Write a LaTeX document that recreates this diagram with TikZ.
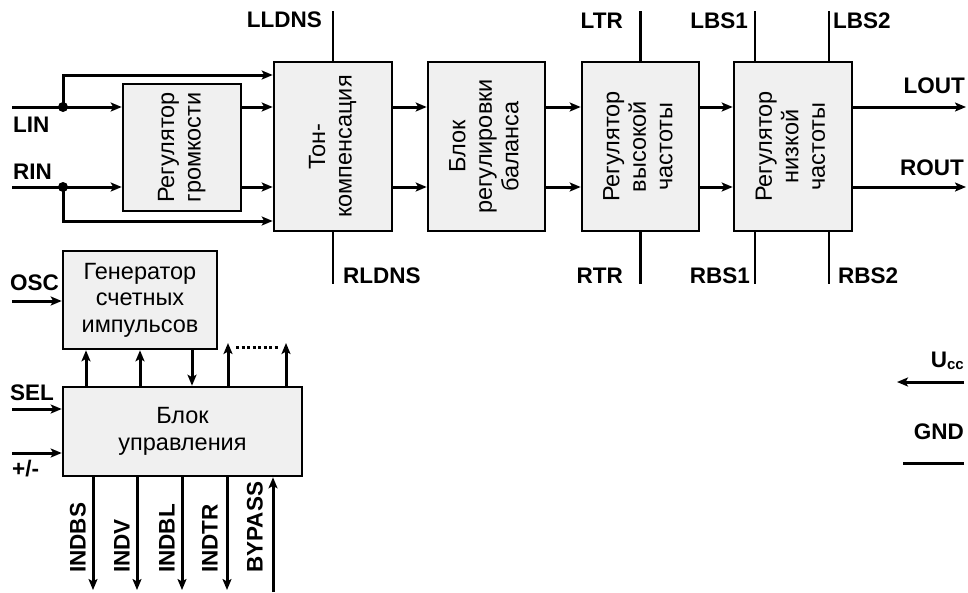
\documentclass[tikz,border=0pt]{standalone}
\usepackage{fontspec}
\setmainfont{Liberation Sans}
\usetikzlibrary{arrows.meta}
\definecolor{boxgray}{RGB}{240,240,240}
\newcommand{\vtxt}[1]{\rotatebox{90}{\begin{tabular}{@{}c@{}}#1\end{tabular}}}

\begin{document}
\begin{tikzpicture}[x=1pt,y=-1pt,
    blk/.style={draw,line width=2.6pt,fill=boxgray,inner sep=0pt,font=\fontsize{23.5}{26.5}\selectfont},
    sig/.style={line width=3pt,-{Stealth[length=11pt,width=9pt,inset=2.5pt]}},
    wire/.style={line width=3pt},
    pinl/.style={line width=2.6pt},
    lbl/.style={font=\fontsize{22.5}{26}\selectfont\bfseries,inner sep=0pt}]
    \useasboundingbox (0,0) rectangle (968,592);

    % Audio path blocks
    \node[blk,minimum width=118pt,minimum height=127pt] (vol) at (182,147.5) {\vtxt{Регулятор\\громкости}};
    \node[blk,minimum width=118pt,minimum height=169pt] (ton) at (333,146.5) {\vtxt{Тон-\\компенсация}};
    \node[blk,minimum width=117pt,minimum height=169pt] (bal) at (486.5,146.5) {\vtxt{Блок\\регулировки\\баланса}};
    \node[blk,minimum width=117pt,minimum height=169pt] (hf) at (640.5,146.5) {\vtxt{Регулятор\\высокой\\частоты}};
    \node[blk,minimum width=118pt,minimum height=169pt] (lf) at (793,146.5) {\vtxt{Регулятор\\низкой\\частоты}};

    % Control blocks
    \node[blk,minimum width=154pt,minimum height=98pt,align=center] (gen) at (140,300) {Генератор\\счетных\\импульсов};
    \node[blk,minimum width=239pt,minimum height=89pt,align=center] (ctl) at (182.5,431.5) {Блок\\управления};

    % Inputs
    \coordinate (lin) at (12,107);
    \coordinate (rin) at (12,187);
    \coordinate (jl) at (63,107);
    \coordinate (jr) at (63,187);
    \coordinate (byl) at (63,75);
    \coordinate (byr) at (63,221);
    \node[lbl,anchor=west] (linl) at (13,125) {LIN};
    \node[lbl,anchor=west] (rinl) at (13,172) {RIN};
    \draw[sig] (lin) -- (vol.west |- lin);
    \draw[sig] (rin) -- (vol.west |- rin);
    \draw[sig] (jl) -- (byl) -- (ton.west |- byl);
    \draw[sig] (jr) -- (byr) -- (ton.west |- byr);
    \fill (jl) circle (5);
    \fill (jr) circle (5);

    % Chain
    \foreach \a/\b in {vol/ton,ton/bal,bal/hf,hf/lf} {
        \draw[sig] (\a.east |- lin) -- (\b.west |- lin);
        \draw[sig] (\a.east |- rin) -- (\b.west |- rin);
    }

    % Outputs
    \coordinate (lout) at (966,107);
    \coordinate (rout) at (966,187);
    \draw[sig] (lf.east |- lout) -- (lout);
    \draw[sig] (lf.east |- rout) -- (rout);
    \node[lbl,anchor=east] (loutl) at (965,86) {LOUT};
    \node[lbl,anchor=east] (routl) at (964,168) {ROUT};

    % Filter pins
    \draw[pinl] (ton.north) -- ++(0,-50);
    \draw[pinl] (ton.south) -- ++(0,52);
    \node[lbl,anchor=east] (lldns) at (322,20) {LLDNS};
    \node[lbl,anchor=west] (rldns) at (343,276) {RLDNS};
    \draw[pinl] (hf.north) -- ++(0,-50);
    \draw[pinl] (hf.south) -- ++(0,52);
    \node[lbl,anchor=east] (ltr) at (623,21) {LTR};
    \node[lbl,anchor=east] (rtr) at (623,276) {RTR};
    \draw[pinl] ([xshift=-38pt]lf.north) -- ++(0,-50);
    \draw[pinl] ([xshift=36pt]lf.north) -- ++(0,-50);
    \draw[pinl] ([xshift=-38pt]lf.south) -- ++(0,52);
    \draw[pinl] ([xshift=36pt]lf.south) -- ++(0,52);
    \node[lbl,anchor=east] (lbs1) at (748,21) {LBS1};
    \node[lbl,anchor=west] (lbs2) at (833,21) {LBS2};
    \node[lbl,anchor=east] (rbs1) at (750,276) {RBS1};
    \node[lbl,anchor=west] (rbs2) at (838,276) {RBS2};

    % Generator and control
    \coordinate (osc) at (12,301);
    \coordinate (sel) at (12,409);
    \coordinate (pm) at (12,453);
    \draw[sig] (osc) -- (gen.west |- osc);
    \draw[sig] (sel) -- (ctl.west |- sel);
    \draw[sig] (pm) -- (ctl.west |- pm);
    \node[lbl,anchor=west] (oscl) at (10,283) {OSC};
    \node[lbl,anchor=west] (sell) at (10,393) {SEL};
    \node[lbl,anchor=west] (pml) at (12,469) {+/-};
    \foreach \x in {86,140} {
        \draw[sig] (ctl.north -| \x,0) -- (gen.south -| \x,0);
    }
    \draw[sig] (gen.south -| 192,0) -- (ctl.north -| 192,0);
    \coordinate (ua) at (228,343);
    \coordinate (ub) at (286,343);
    \draw[sig] (ctl.north -| ua) -- (ua);
    \draw[sig] (ctl.north -| ub) -- (ub);
    \draw[line width=3pt,dash pattern=on 3pt off 2.5pt] (236,347) -- (279,347);

    % Indicator outputs
    \foreach \x in {93,137,182,227} {
        \draw[sig] (ctl.south -| \x,0) -- (\x,590);
    }
    \coordinate (byp) at (273,592);
    \draw[sig] (byp) -- (ctl.south -| byp);
    \foreach \x/\t in {78/INDBS,122/INDV,167/INDBL,210/INDTR,255/BYPASS} {
        \node[lbl,rotate=90,anchor=west] (l\t) at (\x,573) {\t};
    }

    % Supply
    \node[lbl,anchor=east] (uccl) at (964,361) {U\raisebox{-1.5pt}{\fontsize{15}{15}\selectfont cc}};
    \coordinate (ucc) at (964,382);
    \draw[sig] (ucc) -- ++(-67,0);
    \node[lbl,anchor=east] (gndl) at (964,432) {GND};
    \coordinate (gnd) at (964,463);
    \draw[wire] (gnd) -- ++(-61,0);
\end{tikzpicture}
\end{document}
